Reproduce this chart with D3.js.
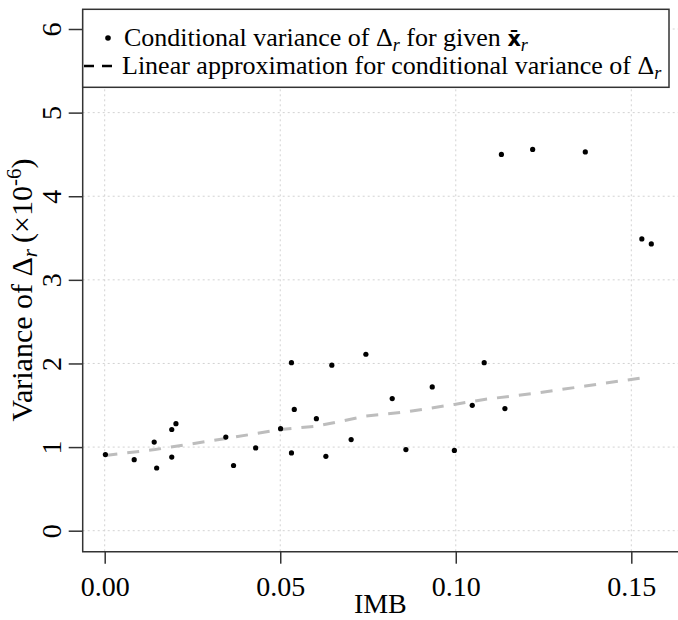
<!DOCTYPE html>
<html>
<head>
<meta charset="utf-8">
<script src="https://cdn.jsdelivr.net/npm/d3@7"></script>
<style>
  body { margin: 0; background: #fff; }
  text { font-family: "Liberation Serif", "Times New Roman", serif; }
</style>
</head>
<body>
<svg></svg>
<script>
// observed points: IMB vs conditional variance (x 1e-6)
var imb = [0.0002, 0.0084, 0.0141, 0.0148, 0.0191, 0.0203, 0.0191, 0.0345, 0.0367, 0.0430,
           0.0501, 0.0532, 0.0540, 0.0532, 0.0603, 0.0647, 0.0630, 0.0744, 0.0702, 0.0819,
           0.0933, 0.1081, 0.1047, 0.1140, 0.0858, 0.0996, 0.1130, 0.1219, 0.1369, 0.1530, 0.1557];
var variance = [0.91, 0.85, 1.06, 0.75, 1.21, 1.28, 0.88, 1.12, 0.78, 0.99,
                1.22, 2.01, 1.45, 0.93, 1.34, 1.98, 0.89, 2.11, 1.09, 1.58,
                1.72, 2.01, 1.50, 1.46, 0.97, 0.96, 4.50, 4.56, 4.53, 3.49, 3.43];

// linear approximation
var fitImb = [0.0002, 0.0143, 0.0341, 0.0501, 0.0603, 0.0744, 0.0858, 0.0996, 0.1081, 0.1219, 0.1369, 0.1550];
var fitVariance = [0.90, 0.97, 1.10, 1.21, 1.25, 1.37, 1.42, 1.51, 1.57, 1.64, 1.73, 1.84];

var xTicks = [0, 0.05, 0.10, 0.15];
var yTicks = [0, 1, 2, 3, 4, 5, 6];

var width = 678;
var height = 620;
var plotLeft = 82.7, plotTop = 9.3, plotBottom = 551.7, plotRight = 678;
var fs = 26;      // legend
var tickFs = 28;  // tick labels and x title
var titleFs = 30; // y title

var svg = d3.select("svg")
    .attr("width", width)
    .attr("height", height);

var x = d3.scaleLinear().domain([0, 0.15]).range([104.7, 631.3]);
var y = d3.scaleLinear().domain([0, 6]).range([530.7, 29]);

// grid
var grid = svg.append("g").attr("class", "grid")
    .attr("stroke", "#d2d2d2")
    .attr("stroke-width", 1)
    .attr("stroke-dasharray", "2,3");

grid.selectAll(".gx")
  .data(xTicks)
  .enter()
  .append("line")
    .attr("x1", d => x(d)).attr("x2", d => x(d))
    .attr("y1", plotTop).attr("y2", plotBottom);

grid.selectAll(".gy")
  .data(yTicks)
  .enter()
  .append("line")
    .attr("x1", plotLeft).attr("x2", plotRight)
    .attr("y1", d => y(d)).attr("y2", d => y(d));

// dashed fit line
var fitLine = d3.line()
    .x(d => x(d[0]))
    .y(d => y(d[1]));

svg.append("path")
    .datum(d3.zip(fitImb, fitVariance))
    .attr("d", fitLine)
    .attr("fill", "none")
    .attr("stroke", "#bdbdbd")
    .attr("stroke-width", 3)
    .attr("stroke-dasharray", "12,10");

// points
svg.append("g")
  .selectAll("circle")
  .data(d3.zip(imb, variance))
  .enter()
  .append("circle")
    .attr("cx", d => x(d[0]))
    .attr("cy", d => y(d[1]))
    .attr("r", 2.6)
    .attr("fill", "#000");

// axes
var xAxis = d3.axisBottom(x)
    .tickValues(xTicks)
    .tickSize(12)
    .tickPadding(12)
    .tickFormat(d3.format(".2f"));

svg.append("g")
    .attr("transform", `translate(0, ${plotBottom})`)
    .call(xAxis)
    .call(g => g.select(".domain").remove())
    .call(g => g.selectAll("line").attr("stroke", "#333").attr("stroke-width", 1.5))
    .call(g => g.selectAll("text")
      .attr("font-family", "Liberation Serif")
      .attr("font-size", tickFs)
      .attr("fill", "#000"));

var yAxis = d3.axisLeft(y)
    .tickValues(yTicks)
    .tickSize(14)
    .tickFormat(d3.format("d"));

svg.append("g")
    .attr("transform", `translate(${plotLeft}, 0)`)
    .call(yAxis)
    .call(g => g.select(".domain").remove())
    .call(g => g.selectAll("line").attr("stroke", "#333").attr("stroke-width", 1.5))
    .call(g => g.selectAll("text")
      .attr("x", 0)
      .attr("y", -22)
      .attr("dy", 0)
      .attr("transform", "rotate(-90)")
      .attr("text-anchor", "middle")
      .attr("font-family", "Liberation Serif")
      .attr("font-size", tickFs)
      .attr("fill", "#000"));

// L-shaped box
svg.append("path")
    .attr("d", `M${plotLeft},${plotTop}V${plotBottom}H${plotRight}`)
    .attr("fill", "none")
    .attr("stroke", "#333")
    .attr("stroke-width", 1.5);

// axis titles
svg.append("text")
    .attr("x", (plotLeft + plotRight) / 2)
    .attr("y", 613)
    .attr("text-anchor", "middle")
    .attr("font-size", tickFs)
    .text("IMB");

var yTitle = svg.append("text")
    .attr("transform", `translate(32, 290) rotate(-90)`)
    .attr("text-anchor", "middle")
    .attr("font-size", titleFs);
yTitle.append("tspan").text("Variance of \u0394");
yTitle.append("tspan").attr("font-style", "italic").attr("font-size", titleFs * 0.7).attr("dy", 5).text("r");
yTitle.append("tspan").attr("dy", -5).text("\u2009(\u00d710");
yTitle.append("tspan").attr("font-size", titleFs * 0.7).attr("dy", -11).text("-6");
yTitle.append("tspan").attr("dy", 11).text(")");

// legend
var legend = svg.append("g");
legend.append("rect")
    .attr("x", plotLeft).attr("y", plotTop)
    .attr("width", 669 - plotLeft).attr("height", 87.3 - plotTop)
    .attr("fill", "#fff")
    .attr("stroke", "#333")
    .attr("stroke-width", 1.5);

legend.append("circle")
    .attr("cx", 108).attr("cy", 38)
    .attr("r", 2.8)
    .attr("fill", "#000");

legend.append("line")
    .attr("x1", 84).attr("x2", 120)
    .attr("y1", 66).attr("y2", 66)
    .attr("stroke", "#000")
    .attr("stroke-width", 2.5)
    .attr("stroke-dasharray", "10,8");

var l1 = legend.append("text")
    .attr("x", 124).attr("y", 46)
    .attr("font-size", fs);
l1.append("tspan").text("Conditional variance of \u0394");
l1.append("tspan").attr("font-style", "italic").attr("font-size", fs * 0.7).attr("dy", 5).text("r");
l1.append("tspan").attr("dy", -5).text(" for given ");
l1.append("tspan").attr("font-weight", "bold").attr("font-family", "DejaVu Sans").attr("font-size", fs * 0.8).text("x\u0304");
l1.append("tspan").attr("font-style", "italic").attr("font-size", fs * 0.7).attr("dy", 5).text("r");

var l2 = legend.append("text")
    .attr("x", 122).attr("y", 74)
    .attr("font-size", fs);
l2.append("tspan").text("Linear approximation for conditional variance of \u0394");
l2.append("tspan").attr("font-style", "italic").attr("font-size", fs * 0.7).attr("dy", 5).text("r");
</script>
</body>
</html>
